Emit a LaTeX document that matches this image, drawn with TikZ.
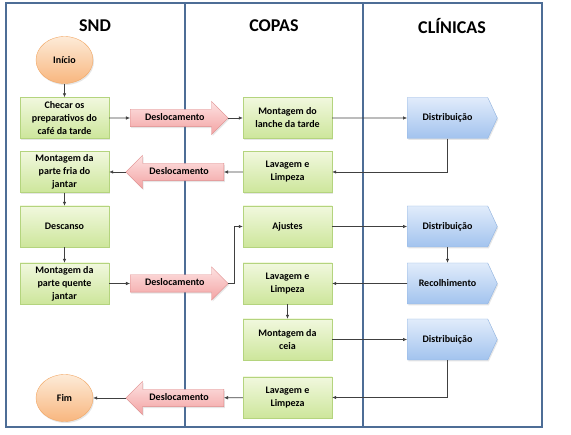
\documentclass[tikz,border=0pt]{standalone}
\usepackage{fontspec}
\setmainfont{Carlito}
\usepackage{tikz}
\usetikzlibrary{arrows.meta, positioning, shapes.geometric, shapes.arrows, shapes.symbols, shadows}

\definecolor{laneblue}{HTML}{4D6D96}
\definecolor{taskTop}{HTML}{F1F8DE}
\definecolor{taskBot}{HTML}{CDE69B}
\definecolor{taskLine}{HTML}{B4D47E}
\definecolor{descTop}{HTML}{FDE2E2}
\definecolor{descBot}{HTML}{F3A3A3}
\definecolor{descLine}{HTML}{DE8A8A}
\definecolor{cliTop}{HTML}{E1ECFB}
\definecolor{cliBot}{HTML}{A2C3EE}
\definecolor{cliLine}{HTML}{92B5E2}
\definecolor{termTop}{HTML}{FDEBD8}
\definecolor{termBot}{HTML}{F8B67E}
\definecolor{termLine}{HTML}{F2A866}

\begin{document}
\begin{tikzpicture}[x=1pt, y=-1pt,
  lane/.style = {draw=laneblue, line width=1.4pt},
  lanetitle/.style = {font=\fontsize{18}{20}\selectfont\bfseries},
  softshadow/.style = {drop shadow={opacity=0.2, shadow xshift=1pt, shadow yshift=-1.5pt}},
  term/.style = {ellipse, draw=termLine, top color=termTop, bottom color=termBot, minimum width=57pt, minimum height=47pt, font=\fontsize{10}{11}\selectfont\bfseries, softshadow},
  task/.style = {rectangle, draw=taskLine, top color=taskTop, bottom color=taskBot, minimum width=89pt, minimum height=41pt, align=center, inner sep=1pt, font=\fontsize{10}{13}\selectfont\bfseries, softshadow},
  desloc/.style = {single arrow, draw=descLine, top color=descTop, bottom color=descBot, minimum height=98pt, minimum width=33pt, single arrow head extend=8pt, text height=7pt, text depth=2pt, inner ysep=4pt, font=\fontsize{10}{11}\selectfont\bfseries, softshadow},
  clinic/.style = {signal, signal to=east, signal pointer angle=130, draw=cliLine, top color=cliTop, bottom color=cliBot, minimum width=90pt, minimum height=41pt, font=\fontsize{10}{11}\selectfont\bfseries, softshadow},
  arrow/.style = {draw=black!75, line width=0.6pt, -{Latex[length=4pt, width=3.5pt]}}
]
\useasboundingbox (0,0) rectangle (571,435);

% swimlanes
\draw[lane] (6,3) rectangle (542,427);
\draw[lane] (185,3) -- (185,427);
\draw[lane] (363,3) -- (363,427);

\node[lanetitle] (sndT) at (95,26) {SND};
\node[lanetitle] (copasT) at (274,26) {COPAS};
\node[lanetitle] (clinT) at (452,26) {CLÍNICAS};

% SND
\node[term] (inicio) at (64.5,60) {Início};
\node[task] (checar) at (64.5,118) {Checar os\\preparativos do\\café da tarde};
\node[task] (fria) at (64.5,172) {Montagem da\\parte fria do\\jantar};
\node[task] (descanso) at (64.5,226.5) {Descanso};
\node[task] (quente) at (64.5,283.5) {Montagem da\\parte quente\\jantar};
\node[term] (fim) at (64.5,398) {Fim};

% Deslocamentos
\node[desloc, anchor=tail] (desl1) at (130,118) {Deslocamento};
\node[desloc, shape border rotate=180, anchor=tail] (desl2) at (224,172) {Deslocamento};
\node[desloc, anchor=tail] (desl3) at (130,283.5) {Deslocamento};
\node[desloc, shape border rotate=180, anchor=tail] (desl4) at (224,398) {Deslocamento};

% COPAS
\node[task] (lanche) at (287.5,118) {Montagem do\\lanche da tarde};
\node[task] (lav1) at (287.5,172) {Lavagem e\\Limpeza};
\node[task] (ajustes) at (287.5,226.5) {Ajustes};
\node[task] (lav2) at (287.5,283.5) {Lavagem e\\Limpeza};
\node[task] (ceia) at (287.5,339.5) {Montagem da\\ceia};
\node[task] (lav3) at (287.5,397.5) {Lavagem e\\Limpeza};

% CLINICAS
\node[clinic] (dist1) at (447.5,118) {Distribuição};
\node[clinic] (dist2) at (447.5,226.5) {Distribuição};
\node[clinic] (recol) at (447.5,283.5) {Recolhimento};
\node[clinic] (dist3) at (447.5,339.5) {Distribuição};

% flow
\draw[arrow] (inicio) -- (checar);
\draw[arrow] (checar) -- (desl1);
\draw[arrow] (desl1.tip) -- (lanche);
\draw[arrow] (lanche) -- (dist1);
\draw[arrow] (dist1.south) |- (lav1);
\draw[arrow] (lav1) -- (desl2);
\draw[arrow] (desl2.tip) -- (fria);
\draw[arrow] (fria) -- (descanso);
\draw[arrow] (descanso) -- (quente);
\draw[arrow] (quente) -- (desl3);
\draw[arrow] (desl3.tip) -- ++(6,0) |- (ajustes);
\draw[arrow] (ajustes) -- (dist2);
\draw[arrow] (dist2.south) -- (recol.north);
\draw[arrow] (recol) -- (lav2);
\draw[arrow] (lav2) -- (ceia);
\draw[arrow] (ceia) -- (dist3);
\draw[arrow] (dist3.south) |- (lav3);
\draw[arrow] (lav3) -- (desl4);
\draw[arrow] (desl4.tip) -- (fim);
\end{tikzpicture}
\end{document}
